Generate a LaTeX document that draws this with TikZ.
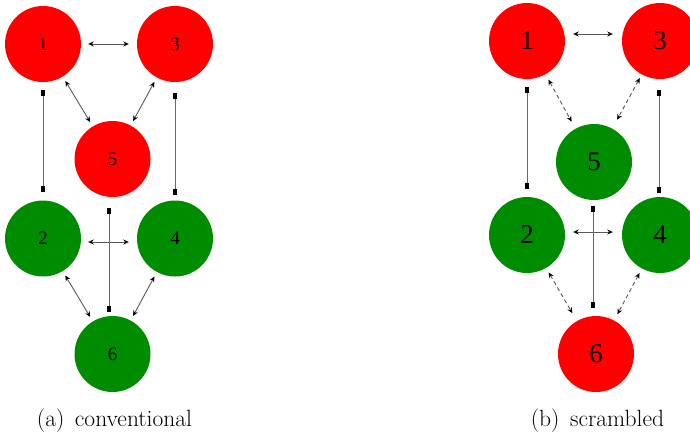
\documentclass[tikz,border=0pt]{standalone}
\usepackage{fontspec}
\newfontfamily\tms{Liberation Serif}
\usetikzlibrary{arrows.meta}
\definecolor{nred}{RGB}{255,0,0}
\definecolor{ngreen}{RGB}{0,140,0}
\tikzset{
  vtx/.style={circle,minimum size=76pt,inner sep=0pt,draw=none},
  rv/.style={vtx,fill=nred},
  gv/.style={vtx,fill=ngreen},
  smalllab/.style={font=\tms\fontsize{19}{19}\selectfont},
  biglab/.style={font=\tms\fontsize{27}{27}\selectfont},
  dbl/.style={line width=0.9pt,draw=black!65,{Stealth[length=5.5pt,width=5pt,color=black]}-{Stealth[length=5.5pt,width=5pt,color=black]}},
  dbldash/.style={dbl,dash pattern=on 4pt off 3pt},
  sq/.style={line width=0.9pt,draw=black!60,{Rectangle[length=6pt,width=3.8pt,color=black]}-{Rectangle[length=6pt,width=3.8pt,color=black]}},
  capt/.style={font=\fontsize{23.5}{28}\selectfont,inner sep=0pt}
}
\begin{document}
\begin{tikzpicture}[x=1pt,y=-1pt]
\clip (0,0) rectangle (690,434);
% (a) conventional
\node[rv,smalllab] (a1) at (43,44) {1};
\node[rv,smalllab] (a3) at (175,44) {3};
\node[rv,smalllab] (a5) at (112.5,159) {5};
\node[gv,smalllab] (a2) at (43,238.5) {2};
\node[gv,smalllab] (a4) at (175,238.5) {4};
\node[gv,smalllab] (a6) at (112.5,354) {6};
\draw[dbl,shorten <=7pt,shorten >=8pt] (a1.east) -- (a3.west);
\draw[dbl,shorten <=5pt,shorten >=5pt] (a1) -- (a5);
\draw[dbl,shorten <=5pt,shorten >=5pt] (a3) -- (a5);
\draw[sq,shorten <=8pt,shorten >=8.5pt] (a1.south) -- (a2.north);
\draw[sq,shorten <=11pt,shorten >=5.5pt] (a3.south) -- (a4.north);
\draw[dbl,shorten <=7pt,shorten >=8pt] ([yshift=-3.5pt]a2.east) -- ([yshift=-3.5pt]a4.west);
\draw[sq,shorten <=11pt,shorten >=4pt] ([xshift=-3.5pt]a5.south) -- ([xshift=-3.5pt]a6.north);
\draw[dbl,shorten <=5pt,shorten >=5pt] (a2) -- (a6);
\draw[dbl,shorten <=5pt,shorten >=5pt] (a4) -- (a6);
\node[capt] (ca) at (114.5,421) {(a)\hspace{0.45em}conventional};
% (b) scrambled
\node[rv,biglab] (b1) at (527,41) {1};
\node[rv,biglab] (b3) at (660,41) {3};
\node[gv,biglab] (b5) at (594,162) {5};
\node[gv,biglab] (b2) at (527,235) {2};
\node[gv,biglab] (b4) at (660,235) {4};
\node[rv,biglab] (b6) at (596,354) {6};
\draw[dbl,shorten <=8pt,shorten >=9pt] ([yshift=7pt]b1.east) -- ([yshift=7pt]b3.west);
\draw[dbldash,shorten <=6pt,shorten >=8pt] (b1) -- (b5);
\draw[dbldash,shorten <=4pt,shorten >=10pt] (b3) -- (b5);
\draw[sq,shorten <=8pt,shorten >=8pt] (b1.south) -- (b2.north);
\draw[sq,shorten <=11pt,shorten >=4pt] ([xshift=-1pt]b3.south) -- ([xshift=-1pt]b4.north);
\draw[dbl,shorten <=8pt,shorten >=9pt] ([yshift=3pt]b2.east) -- ([yshift=3pt]b4.west);
\draw[sq,shorten <=6pt,shorten >=8pt] ([xshift=-1pt]b5.south) -- ([xshift=-3pt]b6.north);
\draw[dbldash,shorten <=5pt,shorten >=9pt] (b2) -- (b6);
\draw[dbldash,shorten <=5pt,shorten >=7pt] (b4) -- (b6);
\node[capt] (cb) at (597.5,421) {(b)\hspace{0.45em}scrambled};
\end{tikzpicture}
\end{document}
